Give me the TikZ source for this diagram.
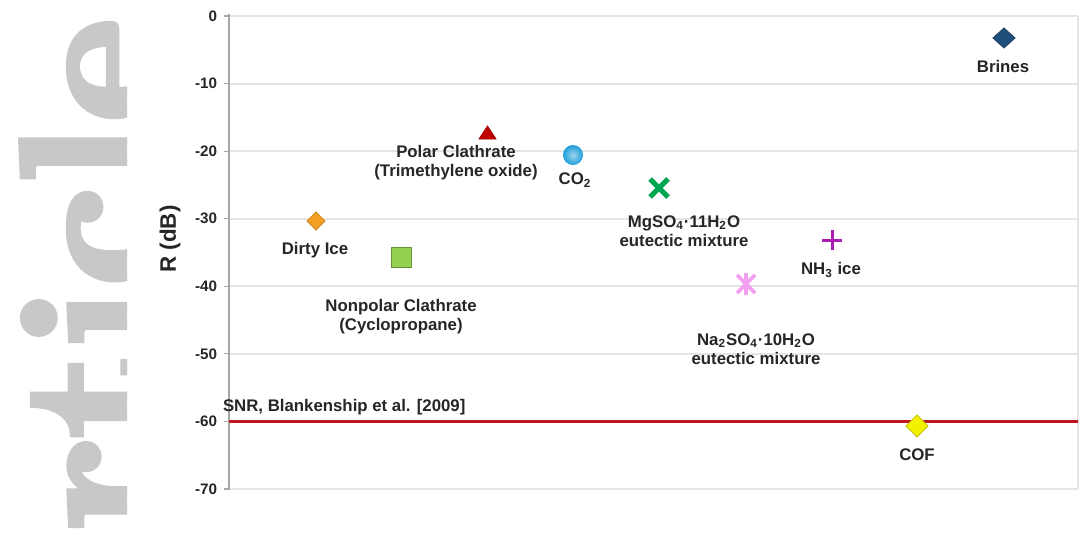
\documentclass[tikz,border=0pt]{standalone}
\usepackage{fontspec}
\newfontfamily\lab{Liberation Sans}
\newfontfamily\wmfont{lmroman10-bold.otf}[FakeBold=3.5]
\definecolor{gridc}{HTML}{E4E4E4}
\definecolor{axisc}{HTML}{A6A6A6}
\definecolor{txt}{HTML}{262626}
\definecolor{snr}{HTML}{C0161E}
\definecolor{wmc}{HTML}{C8C8C8}
\definecolor{brine}{HTML}{1F4E79}
\definecolor{polar}{HTML}{C00000}
\definecolor{cotwo}{HTML}{1E9ED8}
\definecolor{mgso}{HTML}{00A651}
\definecolor{dirty}{HTML}{F2A024}
\definecolor{nonpol}{HTML}{92D050}
\definecolor{nhthree}{HTML}{B01CB0}
\definecolor{naso}{HTML}{F4A0F0}
\definecolor{cof}{HTML}{F2F200}
\begin{document}
\begin{tikzpicture}[x=0.5pt,y=-0.5pt,
  every node/.style={inner sep=0pt,outer sep=0pt},
  gridline/.style={draw=gridc,line width=1pt},
  axisline/.style={draw=axisc,line width=1.2pt},
  tickmark/.style={draw=axisc,line width=0.6pt},
  ticklab/.style={anchor=east,text=txt,font={\lab\bfseries\fontsize{7.6}{9}\selectfont}},
  lbl/.style={text=txt,align=center,font={\lab\bfseries\fontsize{8.4}{9.5}\selectfont}},
  snrline/.style={draw=snr,line width=1.5pt}]
\useasboundingbox (0,0) rectangle (1080,536);
\fill[white] (0,0) rectangle (1080,536);
% watermark
\begin{scope}
\clip (0,0) rectangle (127,536);
\node[rotate=90,anchor=base west,text=wmc,font={\wmfont\fontsize{99}{99}\selectfont}] (wm) at (159,532) {rticle};
\end{scope}
% grid
\foreach \v in {0,...,7}{
  \draw[gridline] (229,{16+67.57*\v}) -- (1078,{16+67.57*\v});
  \draw[tickmark] (224,{16+67.57*\v}) -- (229,{16+67.57*\v});
}
\draw[gridline] (1078,16) -- (1078,489);
\node[ticklab] (t0) at (217,16) {0};
\node[ticklab] (t1) at (217,83.6) {-10};
\node[ticklab] (t2) at (217,151.1) {-20};
\node[ticklab] (t3) at (217,218.7) {-30};
\node[ticklab] (t4) at (217,286.3) {-40};
\node[ticklab] (t5) at (217,353.9) {-50};
\node[ticklab] (t6) at (217,421.4) {-60};
\node[ticklab] (t7) at (217,489) {-70};
\draw[axisline] (229,14) -- (229,490);
\node[rotate=90,text=txt,font={\lab\bfseries\fontsize{11.2}{13}\selectfont}] (ylab) at (170,239) {R (dB)};
% SNR line
\draw[snrline] (229,421.4) -- (1078,421.4);
\node[lbl,anchor=west] (snrlab) at (223,407) {SNR, Blankenship et al. [2009]};
% markers
\draw[fill=brine,draw=brine!80!black,line width=0.4pt] (1004,28) -- (1015,38) -- (1004,48) -- (993,38) -- cycle;
\node[lbl] (brines) at (1003,66) {Brines};
\draw[fill=polar,draw=polar!85!black,line width=0.4pt] (487.5,126) -- (496,139) -- (479,139) -- cycle;
\node[lbl] (polarlab) at (456,163) {Polar Clathrate\\(Trimethylene oxide)};
\shade[inner color=cotwo!45!white,outer color=cotwo] (573,155) circle (10);
\node[lbl] (co2) at (575,180) {CO\textsubscript{2}};
\draw[draw=mgso,line width=2.6pt] (650,179) -- (668,197) (650,197) -- (668,179);
\node[lbl] (mglab) at (684,231) {MgSO\textsubscript{4}·11H\textsubscript{2}O\\eutectic mixture};
\draw[fill=dirty,draw=dirty!85!black,line width=0.4pt] (316,212) -- (325,221) -- (316,230) -- (307,221) -- cycle;
\node[lbl] (dirtylab) at (315,250) {Dirty Ice};
\draw[fill=nonpol,draw=nonpol!70!black,line width=0.4pt] (391,247) rectangle (411,267);
\node[lbl] (nonpollab) at (401,317) {Nonpolar Clathrate\\(Cyclopropane)};
\draw[draw=nhthree,line width=1.5pt] (822,240) -- (842,240) (832,230) -- (832,250);
\node[lbl] (nh3lab) at (831,270) {NH\textsubscript{3} ice};
\draw[draw=naso,line width=1.8pt] (737,275) -- (755,293) (737,293) -- (755,275) (746,273) -- (746,295);
\node[lbl] (nalab) at (756,349) {Na\textsubscript{2}SO\textsubscript{4}·10H\textsubscript{2}O\\eutectic mixture};
\draw[fill=cof,draw=cof!80!black,line width=0.4pt] (917,415) -- (928,426) -- (917,437) -- (906,426) -- cycle;
\node[lbl] (coflab) at (917,455) {COF};
\end{tikzpicture}
\end{document}
